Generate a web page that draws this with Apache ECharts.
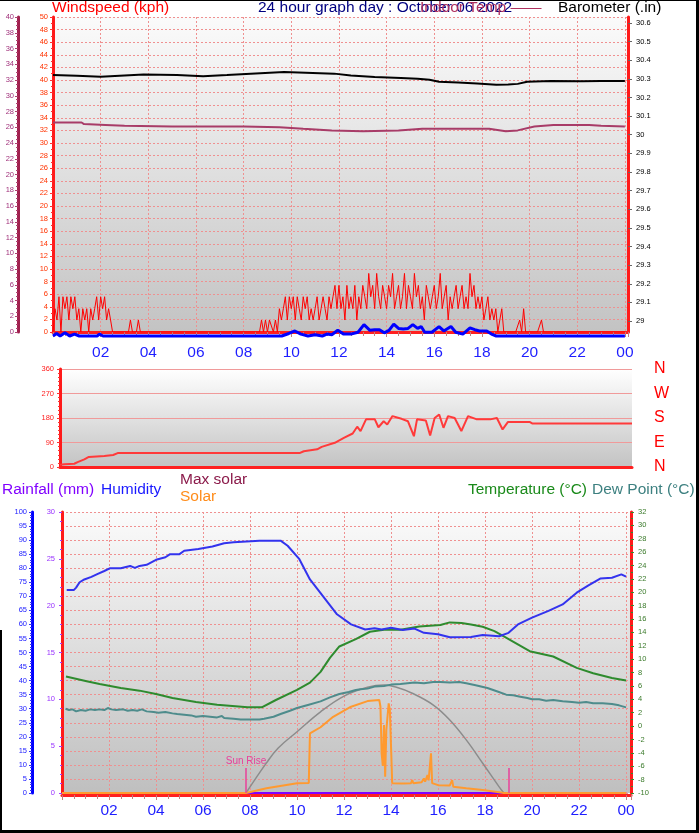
<!DOCTYPE html>
<html><head><meta charset="utf-8">
<script src="https://cdn.jsdelivr.net/npm/echarts@6/dist/echarts.min.js"></script>
<style>html,body{margin:0;padding:0;background:#fff}#c{width:699px;height:833px}</style>
</head><body><div id="c"></div>
<script>
// ---------- tick labels ----------
const xTickLabels = ['', '02','04','06','08','10','12','14','16','18','20','22','00'];
const baroTicks = [29.0,29.1,29.2,29.3,29.4,29.5,29.6,29.7,29.8,29.9,30.0,30.1,30.2,30.3,30.4,30.5,30.6];
const compassLabels = ['N','E','S','W','N'];

// ---------- top panel ----------
const gustStepHours = 1/12; // 5 minute samples
const gustKph = [
 0,3.7,1.9,5.6,0,5.6,3.7,5.6,1.9,5.6,3.7,5.6,
 1.9,3.7,0,3.7,1.9,3.7,0,3.7,1.9,3.7,5.6,1.9,
 5.6,3.7,5.6,1.9,3.7,1.9,0,0,0,0,0,0,
 0,0,0,1.9,0,0,0,1.9,0,0,0,0,
 0,0,0,0,0,0,0,0,0,0,0,0,
 0,0,0,0,0,0,0,0,0,0,0,0,
 0,0,0,0,0,0,0,0,0,0,0,0,
 0,0,0,0,0,0,0,0,0,0,0,0,
 0,0,0,0,0,0,0,0,0,1.9,0,1.9,
 0,1.9,1.9,0,1.9,0,3.7,1.9,3.7,5.6,1.9,5.6,
 3.7,5.6,1.9,5.6,3.7,1.9,5.6,3.7,5.6,1.9,3.7,1.9,
 3.7,5.6,1.9,3.7,5.6,3.7,1.9,5.6,3.7,5.6,7.4,3.7,
 7.4,3.7,5.6,1.9,7.4,3.7,5.6,3.7,7.4,1.9,5.6,3.7,
 7.4,5.6,3.7,9.3,5.6,7.4,3.7,9.3,5.6,3.7,7.4,5.6,
 3.7,7.4,5.6,9.3,3.7,5.6,7.4,3.7,5.6,9.3,3.7,7.4,
 5.6,3.7,9.3,5.6,7.4,3.7,5.6,1.9,7.4,5.6,3.7,5.6,
 7.4,3.7,5.6,9.3,3.7,5.6,7.4,1.9,5.6,3.7,5.6,7.4,
 3.7,5.6,7.4,3.7,5.6,3.7,9.3,5.6,7.4,3.7,5.6,3.7,
 5.6,1.9,3.7,5.6,1.9,3.7,1.9,3.7,0,1.9,3.7,0,
 0,0,0,0,0,0,0,1.9,0,3.7,0,0,
 0,0,0,0,0,0,1.9,0,0,0,0,0,
 0,0,0,0,0,0,0,0,0,0,0,0,
 0,0,0,0,0,0,0,0,0,0,0,0,
 0,0,0,0,0,0,0,0,0,0,0,0,
 0
];
const avgWindKph = [[0,0],[0.15,0.4],[0.3,0],[0.5,0.5],[0.7,0],[0.9,0.3],[1.1,0],[1.85,0],[1.95,0.3],[2.1,0],
 [9.6,0],[9.9,0.4],[10.15,0.8],[10.4,0.3],[10.7,0],[11.0,0.2],[11.3,0],[11.5,0.3],[11.7,0.2],[11.95,0.9],
 [12.2,0.3],[12.5,0.3],[12.8,0.6],[13.05,1.8],[13.3,0.9],[13.5,1.0],[13.7,1.0],[13.9,0.5],[14.1,0.9],[14.3,1.9],
 [14.5,1.2],[14.7,1.1],[14.9,1.2],[15.1,1.8],[15.3,1.2],[15.45,1.5],[15.6,0.6],[15.9,0.6],[16.2,1.5],[16.4,0.8],
 [16.7,1.5],[16.9,0.6],[17.2,0.3],[17.5,1.3],[17.7,1.0],[17.9,0.8],[18.2,0.8],[18.4,0.3],[18.6,0],[24,0]];
const barometerIn = [[0,30.320],[1.0,30.316],[2.0,30.311],[3.0,30.318],[3.8,30.323],[5.2,30.321],[6.3,30.314],
 [7.3,30.320],[8.3,30.327],[9.7,30.337],[10.6,30.333],[11.8,30.328],[12.5,30.318],[13.5,30.310],[14.6,30.305],
 [15.3,30.300],[15.8,30.295],[16.2,30.284],[17.0,30.280],[17.8,30.275],[18.6,30.268],[19.1,30.270],[19.5,30.273],
 [19.9,30.284],[20.9,30.288],[22.2,30.287],[23.0,30.289],[24.0,30.289]];
const indoorTempC = [[0,26.6],[1.2,26.6],[1.3,26.4],[2.2,26.3],[3.0,26.2],[5.0,26.1],[8.0,26.1],[9.5,26.0],
 [10.5,25.8],[11.7,25.6],[13.0,25.5],[14.5,25.6],[15.5,25.8],[17.0,25.8],[18.3,25.8],[19.0,25.5],[19.5,25.6],
 [20.2,26.1],[21.0,26.3],[22.5,26.3],[23.0,26.2],[24.0,26.1]];

// ---------- middle panel ----------
const windDirDeg = [[0,8],[0.19,10],[0.6,12],[0.74,18],[1.02,28],[1.21,37],[1.86,40],[2.23,44],[2.42,51],
 [10.05,51],[10.23,58],[10.79,65],[10.98,74],[11.53,89],[11.91,107],[12.28,123],[12.47,148],[12.61,132],
 [12.84,175],[13.21,175],[13.36,146],[13.58,168],[13.73,156],[13.95,187],[14.33,177],[14.6,168],[14.85,113],
 [14.98,175],[15.35,171],[15.53,116],[15.72,180],[15.91,193],[16.09,144],[16.28,187],[16.56,180],[16.84,132],
 [17.12,187],[17.49,175],[18.05,175],[18.33,180],[18.57,138],[18.79,165],[19.72,165],[19.81,160],[24,160]];

// ---------- bottom panel ----------
const humidityPct = [[0.2,72.2],[0.5,72.2],[0.6,73.1],[0.75,75],[0.95,76],[1.25,76.9],[1.5,77.9],[1.8,79],[2.05,80],
 [2.5,80],[2.9,80.8],[3.1,80.1],[3.3,80.8],[3.6,81.2],[4.0,83],[4.4,83.9],[4.6,85],[5.0,85],[5.2,86.2],[5.8,86.8],
 [6.4,87.7],[6.9,88.9],[7.3,89.2],[8.4,89.8],[9.3,89.8],[9.6,88],[10.1,83.2],[10.55,76],[11.2,69],[11.7,63.6],
 [12.3,60],[12.9,58.2],[13.3,58.6],[13.6,58.2],[14.0,58.8],[14.5,58],[15.0,58.5],[15.4,57],[16.0,56.5],[16.5,55.4],
 [17.4,55.5],[17.9,56.2],[18.6,55.8],[19.0,57],[19.4,60],[20.0,62.4],[20.7,64.8],[21.3,67.1],[21.9,71.3],
 [22.4,73.9],[22.9,76.3],[23.4,76.6],[23.8,77.8],[24.0,77]];
const temperatureC = [[0.17,7.4],[1.05,6.7],[1.6,6.3],[2.5,5.7],[3.3,5.3],[4.0,4.8],[4.7,4.2],[5.7,3.6],[6.6,3.2],
 [7.9,2.8],[8.5,2.8],[9.1,3.9],[10.0,5.4],[10.55,6.5],[11.0,8.1],[11.4,10.2],[11.8,11.9],[12.5,13.0],[13.1,14.1],
 [13.7,14.4],[14.4,14.4],[15.2,14.9],[16.1,15.1],[16.5,15.5],[17.0,15.4],[17.4,15.2],[17.9,14.85],[18.4,14.2],
 [18.8,13.4],[19.06,12.9],[19.9,11.2],[20.9,10.4],[21.9,8.7],[22.6,7.9],[23.4,7.2],[24.0,6.8]];
const dewPointC = [[0.15,2.6],[0.3,2.4],[0.45,2.5],[0.6,2.2],[0.8,2.4],[1.0,2.3],[1.2,2.5],[1.4,2.4],[1.6,2.5],
 [1.8,2.4],[1.95,2.7],[2.1,2.5],[2.3,2.4],[2.6,2.5],[2.8,2.3],[3.0,2.4],[3.2,2.3],[3.4,2.5],[3.6,2.2],[3.9,2.1],
 [4.1,2.0],[4.4,2.1],[4.7,1.9],[4.9,1.8],[5.2,1.7],[5.5,1.6],[5.7,1.4],[6.0,1.5],[6.3,1.4],[6.6,1.3],[6.8,1.5],
 [6.9,1.2],[7.3,1.1],[7.6,1.0],[8.0,1.0],[8.4,1.0],[8.6,1.1],[9.0,1.4],[9.3,1.8],[9.7,2.3],[10.0,2.7],[10.5,3.2],
 [11.0,3.7],[11.4,4.3],[11.8,4.8],[12.2,5.1],[12.5,5.4],[12.7,5.5],[13.0,5.6],[13.3,5.9],[13.7,6.0],[14.0,6.2],
 [14.4,6.3],[14.7,6.4],[15.0,6.5],[15.4,6.4],[15.8,6.6],[16.1,6.6],[16.5,6.5],[16.9,6.6],[17.2,6.4],[17.6,6.1],
 [18.1,5.7],[18.5,5.2],[18.9,4.7],[19.2,4.6],[19.5,4.4],[19.8,4.2],[20.0,4.0],[20.3,4.0],[20.6,3.8],[20.9,3.9],
 [21.3,3.7],[21.7,3.6],[22.0,3.5],[22.3,3.6],[22.6,3.4],[23.0,3.4],[23.4,3.3],[23.7,3.1],[24.0,2.8]];
const rainfallMm = [[0,0],[24,0]];
const maxSolarWm2 = [[7.83,0],[8.7,107],[9.2,160],[10.0,218],[11.0,289],[12.0,345],[13.0,376],[13.7,384],[14.2,377],
 [14.9,355],[15.8,313],[16.5,260],[17.2,189],[17.9,106],[18.6,22],[18.8,0]];
const solarWm2 = [[0,0],[7.83,0],[8.7,17],[10.0,35],[10.5,36],[10.55,212],[11.0,234],[11.5,269],[12.3,307],[13.0,327],
 [13.5,331],[13.55,307],[13.6,142],[13.65,96],[13.7,242],[13.75,58],[13.8,224],[13.9,319],[13.95,295],[14.0,300],
 [14.05,35],[14.5,34],[14.85,35],[14.9,46],[14.95,35],[15.3,38],[15.4,52],[15.45,40],[15.55,64],[15.6,45],
 [15.7,141],[15.75,35],[16.0,28],[16.5,27],[16.6,46],[16.65,22],[17.2,17],[17.9,11],[18.6,3],[18.8,0],[24,0]];
const sunriseHour = 7.83;
const sunsetHour = 19.0;

// ---------- chart ----------
const FONT = '"Liberation Sans", Arial, sans-serif';
const pink = '#ef9090';
function fmtX(v){ const k = Math.round(v/2); return (Math.abs(v-2*k) < 1e-6 && xTickLabels[k] !== undefined) ? xTickLabels[k] : ''; }
const bg = (a,b)=>({type:'linear',x:0,y:0,x2:0,y2:1,colorStops:[{offset:0,color:a},{offset:1,color:b}]});
const gustData = gustKph.map((v,i)=>[i*gustStepHours, v]);
function txt(x,y,text,color,size){ return {type:'text', x:x, y:y, silent:true, style:{text:text, fill:color, fontSize:size||15.5, fontFamily:FONT, verticalAlign:'middle', textVerticalAlign:'middle'}}; }
const line = (name,xi,yi,data,color,width,extra)=>Object.assign({name, type:'line', xAxisIndex:xi, yAxisIndex:yi, data, symbol:'none', lineStyle:{color, width}, itemStyle:{color}, animation:false}, extra||{});

const option = {
  animation:false,
  backgroundColor:'#ffffff',
  grid:[
    {left:53, top:17, width:575, height:315, show:true, backgroundColor:bg('#fbfbfb','#c3c3c3'), borderWidth:0},
    {left:60, top:369, width:572, height:98, show:true, backgroundColor:bg('#ffffff','#c3c3c3'), borderWidth:0},
    {left:62, top:512, width:569, height:281, show:true, backgroundColor:bg('#fbfbfb','#bfbfbf'), borderWidth:0}
  ],
  xAxis:[
    {gridIndex:0, type:'value', min:0, max:24.13, interval:2,
     axisLine:{show:true,onZero:false,lineStyle:{color:'#ff2020',width:3}},
     axisTick:{show:true,length:5,lineStyle:{color:'#c08080'}},
     minorTick:{show:true,splitNumber:4,length:4,lineStyle:{color:'#c08080'}},
     axisLabel:{formatter:fmtX,color:'#1e1eff',fontSize:15.5,fontFamily:FONT,margin:13},
     splitLine:{show:true,lineStyle:{color:pink,type:[2,2]}}},
    {gridIndex:1, type:'value', min:0, max:24,
     axisLine:{show:true,onZero:false,lineStyle:{color:'#ff2020',width:3}},
     axisTick:{show:false}, axisLabel:{show:false}, splitLine:{show:false}},
    {gridIndex:2, type:'value', min:0, max:24.21, interval:2, offset:2,
     axisLine:{show:true,onZero:false,lineStyle:{color:'#ff2020',width:3}},
     axisTick:{show:true,length:5,lineStyle:{color:'#c08080'}},
     minorTick:{show:true,splitNumber:4,length:4,lineStyle:{color:'#c08080'}},
     axisLabel:{formatter:fmtX,color:'#1e1eff',fontSize:15.5,fontFamily:FONT,margin:8},
     splitLine:{show:true,lineStyle:{color:pink,type:[2,2]}}}
  ],
  yAxis:[
    {gridIndex:0, type:'value', position:'left', min:0, max:50, interval:2,
     axisLine:{show:true,onZero:false,lineStyle:{color:'#ff1a1a',width:3}},
     axisTick:{show:true,length:3,lineStyle:{color:'#ff3030'}},
     minorTick:{show:true,splitNumber:2,length:2,lineStyle:{color:'#ff3030'}},
     axisLabel:{color:'#ff3300',fontSize:7.5,fontFamily:FONT,margin:5},
     splitLine:{show:true,lineStyle:{color:pink,type:[2,2]}}},
    {gridIndex:0, type:'value', position:'left', offset:35, min:0, max:40, interval:2,
     axisLine:{show:true,onZero:false,lineStyle:{color:'#a0204e',width:3}},
     axisTick:{show:true,length:3,lineStyle:{color:'#b04070'}},
     minorTick:{show:true,splitNumber:4,length:2,lineStyle:{color:'#b04070'}},
     axisLabel:{color:'#a0307a',fontSize:7.5,fontFamily:FONT,margin:4},
     splitLine:{show:false}},
    {gridIndex:0, type:'value', position:'right', min:28.941, max:30.632,
     axisLine:{show:true,onZero:false,lineStyle:{color:'#ff1a1a',width:3}},
     axisTick:{show:true,length:4,customValues:baroTicks,lineStyle:{color:'#666'}},
     axisLabel:{customValues:baroTicks,formatter:v=>String(+(+v).toFixed(1)),color:'#000',fontSize:7.5,fontFamily:FONT,margin:8},
     splitLine:{show:false}},
    {gridIndex:0, type:'value', show:false, min:0.635, max:50.635},
    {gridIndex:1, type:'value', position:'left', min:0, max:360, interval:90,
     axisLine:{show:true,onZero:false,lineStyle:{color:'#ff1a1a',width:3}},
     axisTick:{show:true,length:3,lineStyle:{color:'#ff3030'}},
     minorTick:{show:true,splitNumber:6,length:2,lineStyle:{color:'#ff3030'}},
     axisLabel:{color:'#ff2020',fontSize:7.5,fontFamily:FONT,margin:6},
     splitLine:{show:true,lineStyle:{color:'#f09a9a',width:1}}},
    {gridIndex:1, type:'value', position:'right', min:0, max:360, interval:90,
     axisLine:{show:false}, axisTick:{show:false}, splitLine:{show:false},
     axisLabel:{formatter:v=>compassLabels[Math.round(v/90)]||'',color:'#ff0000',fontSize:16,fontFamily:FONT,margin:22}},
    {gridIndex:2, type:'value', position:'left', offset:30, min:0, max:100, interval:5,
     axisLine:{show:true,onZero:false,lineStyle:{color:'#0000ff',width:3}},
     axisTick:{show:true,length:3,lineStyle:{color:'#3030ff'}},
     minorTick:{show:true,splitNumber:5,length:2,lineStyle:{color:'#3030ff'}},
     axisLabel:{color:'#2222ff',fontSize:7.5,fontFamily:FONT,margin:5},
     splitLine:{show:true,lineStyle:{color:pink,type:[2,2]}}},
    {gridIndex:2, type:'value', position:'left', min:0, max:30, interval:5,
     axisLine:{show:true,onZero:false,lineStyle:{color:'#ff1a1a',width:3}},
     axisTick:{show:true,length:3,lineStyle:{color:'#a040ff'}},
     minorTick:{show:true,splitNumber:5,length:2,lineStyle:{color:'#a040ff'}},
     axisLabel:{color:'#9933ff',fontSize:7.5,fontFamily:FONT,margin:7},
     splitLine:{show:false}},
    {gridIndex:2, type:'value', position:'right', min:-10, max:32, interval:2,
     axisLine:{show:true,onZero:false,lineStyle:{color:'#ff1a1a',width:3}},
     axisTick:{show:true,length:3,lineStyle:{color:'#2f8f2f'}},
     minorTick:{show:true,splitNumber:2,length:2,lineStyle:{color:'#2f8f2f'}},
     axisLabel:{color:'#3a7a2a',fontSize:7.5,fontFamily:FONT,margin:7},
     splitLine:{show:false}},
    {gridIndex:2, type:'value', show:false, min:0, max:1000}
  ],
  series:[
    line('Indoor Temp',0,1,indoorTempC,'#a83c68',2),
    line('Barometer',0,2,barometerIn,'#000000',2),
    line('Gust',0,0,gustData,'#ff0000',1),
    line('Avg wind',0,3,avgWindKph,'#0000ff',3,{clip:false}),
    line('Direction',1,4,windDirDeg,'#ff3a3a',2),
    line('Rainfall',2,7,rainfallMm,'#8000ff',2),
    line('Max solar',2,9,maxSolarWm2,'#8c8c8c',1.5,{smooth:0.4}),
    line('Solar',2,9,solarWm2,'#ff9a30',2,{markLine:{symbol:['none','none'],silent:true,
      lineStyle:{color:'#e8409a',width:1.5,type:'solid'},
      label:{show:false},
      data:[
        [{coord:[sunriseHour,0],label:{show:true,formatter:'Sun Rise',position:'end',color:'#e8409a',fontSize:10,fontFamily:FONT,distance:2}},{coord:[sunriseHour,89]}],
        [{coord:[sunsetHour,0]},{coord:[sunsetHour,89]}]
      ]}}),
    line('Dew Point',2,8,dewPointC,'#4e8c8c',2),
    line('Temperature',2,8,temperatureC,'#2e8b2e',2),
    line('Humidity',2,6,humidityPct,'#3333ee',2)
  ],
  graphic:[
    txt(52,8,'Windspeed (kph)','#ff0000'),
    txt(258,8,'24 hour graph day : October 06 2022','#000080'),
    txt(420,8,'Indoor Temp \u2014\u2014','#b0305e'),
    txt(558,8,'Barometer (.in)','#000000'),
    txt(2,490,'Rainfall (mm)','#8000ff'),
    txt(101,490,'Humidity','#1a1aff'),
    txt(180,480,'Max solar','#8b1a4a'),
    txt(180,497,'Solar','#ff8c1a'),
    txt(468,490,'Temperature (\u00B0C)','#1a8a1a'),
    txt(592,490,'Dew Point (\u00B0C)','#3d8080'),
    {type:'rect',silent:true,shape:{x:0,y:0,width:699,height:1},style:{fill:'#000'}},
    {type:'rect',silent:true,shape:{x:696,y:0,width:3,height:833},style:{fill:'#000'}},
    {type:'rect',silent:true,shape:{x:0,y:830,width:699,height:3},style:{fill:'#000'}},
    {type:'rect',silent:true,shape:{x:0,y:630,width:2,height:203},style:{fill:'#000'}}
  ]
};
const chart = echarts.init(document.getElementById('c'), null, {renderer:'canvas'});
chart.setOption(option);
</script></body></html>
